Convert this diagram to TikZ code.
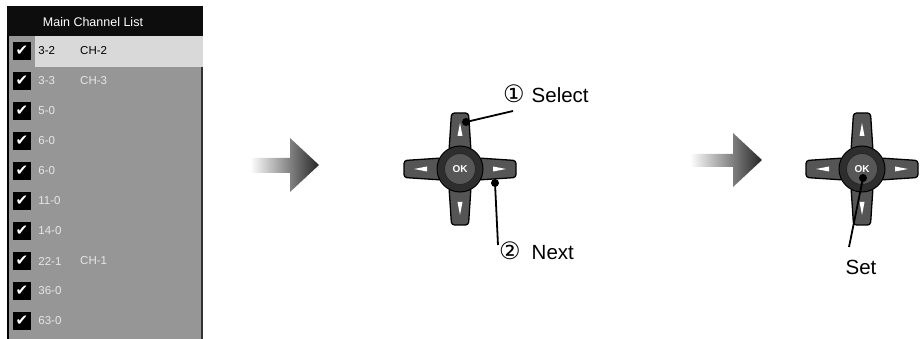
\documentclass[tikz,border=0pt]{standalone}
\usepackage{fontspec}
\setmainfont{Liberation Sans}
\newfontfamily\symfont{DejaVu Sans}
\usetikzlibrary{positioning}
\definecolor{panelgray}{HTML}{969696}
\definecolor{hilite}{HTML}{D9D9D9}
\definecolor{rowtxt}{HTML}{E6E6E6}
\definecolor{keygray}{HTML}{555555}
\definecolor{ringgray}{HTML}{2E2E2E}
\definecolor{okgray}{HTML}{575757}

\begin{document}
\begin{tikzpicture}[x=1pt, y=-1pt,
    hdr/.style={text=white,inner sep=0,font=\fontsize{12.5}{14}\selectfont},
    chk/.style={fill=black,minimum size=18pt,inner sep=0,text=white,font=\symfont\fontsize{15}{15}\selectfont},
    num/.style={anchor=west,inner sep=0,font=\fontsize{11.5}{14}\selectfont},
    key/.style={fill=keygray,draw=black,line width=1.3pt,rounded corners=3pt},
    ring/.style={circle,fill=ringgray,draw=black,line width=1pt,minimum size=46pt,inner sep=0},
    okbtn/.style={circle,fill=okgray,draw=black!85,line width=0.8pt,minimum size=31pt,inner sep=0,text=white,font=\bfseries\fontsize{10}{10}\selectfont},
    callout/.style={inner sep=0,font=\fontsize{20.5}{24}\selectfont},
    dot/.style={circle,fill=black,minimum size=8pt,inner sep=0},
    leader/.style={draw=black,line width=1.8pt}]
    \useasboundingbox (0,0) rectangle (921,339);
    \fill[panelgray] (7,6) rectangle (203,339);
    \fill[black!95] (7,6) rectangle (203,36);
    \fill[hilite] (35,36) rectangle (203,67);
    \draw[black,line width=1.5pt] (8,36) -- (8,339);
    \draw[black!80,line width=1.5pt] (202,67) -- (202,339);
    \node[hdr] (title) at (93,22) {Main Channel List};
    \foreach \n/\c/\col [count=\i from 0] in {3-2/CH-2/black, 3-3/CH-3/rowtxt, 5-0//rowtxt, 6-0//rowtxt, 6-0//rowtxt,
        11-0//rowtxt, 14-0//rowtxt, 22-1/CH-1/rowtxt, 36-0//rowtxt, 63-0//rowtxt} {
      \node[chk] (chk\i) at (22,51+30*\i) {✔};
      \node[num,text=\col,right=7pt of chk\i] (num\i) {\n};
      \node[num,text=\col] (ch\i) at (80,51+30*\i) {\c};
    }
    \shade[left color=white,right color=black!85] (250,158) -- (290,158) -- (290,138) -- (319,165) -- (290,192) -- (290,173) -- (250,173) -- cycle;
    \shade[left color=white,right color=black!85] (690,154) -- (733,154) -- (733,133) -- (762,160) -- (733,187) -- (733,167) -- (690,167) -- cycle;
    \foreach \cx/\cy/\p in {460/169/a, 862/169/b} {
      \begin{scope}[shift={(\cx,\cy)}]
        \foreach \r in {0,90,180,270} {
          \draw[key,rotate=\r] (-11,-18) -- (-8.5,-56) -- (8.5,-56) -- (11,-18) -- cycle;
          \fill[white,rotate=\r] (-2.5,-33) -- (0,-46) -- (2.5,-33) -- cycle;
        }
      \end{scope}
      \node[ring] (ring\p) at (\cx,\cy) {};
      \node[okbtn] (ok\p) at (\cx,\cy) {OK};
    }
    \node[callout,anchor=west] (sel) at (503,94) {{\symfont\fontsize{24}{24}\selectfont ①}\hspace{7pt}Select};
    \node[callout,anchor=west] (nxt) at (499,251) {{\symfont\fontsize{24}{24}\selectfont ②}\hspace{11pt}Next};
    \node[callout] (set) at (861,267) {Set};
    \node[dot] (dsel) at (466,122) {};
    \node[dot] (dnxt) at (495,183) {};
    \node[dot] (dset) at (863,178) {};
    \coordinate (selend) at (513,111);
    \coordinate (nxtend) at (498,245);
    \coordinate (setend) at (849,247);
    \path[leader] (dsel.center) -- (selend);
    \path[leader] (dnxt.center) -- (nxtend);
    \path[leader] (dset.center) -- (setend);
\end{tikzpicture}
\end{document}
